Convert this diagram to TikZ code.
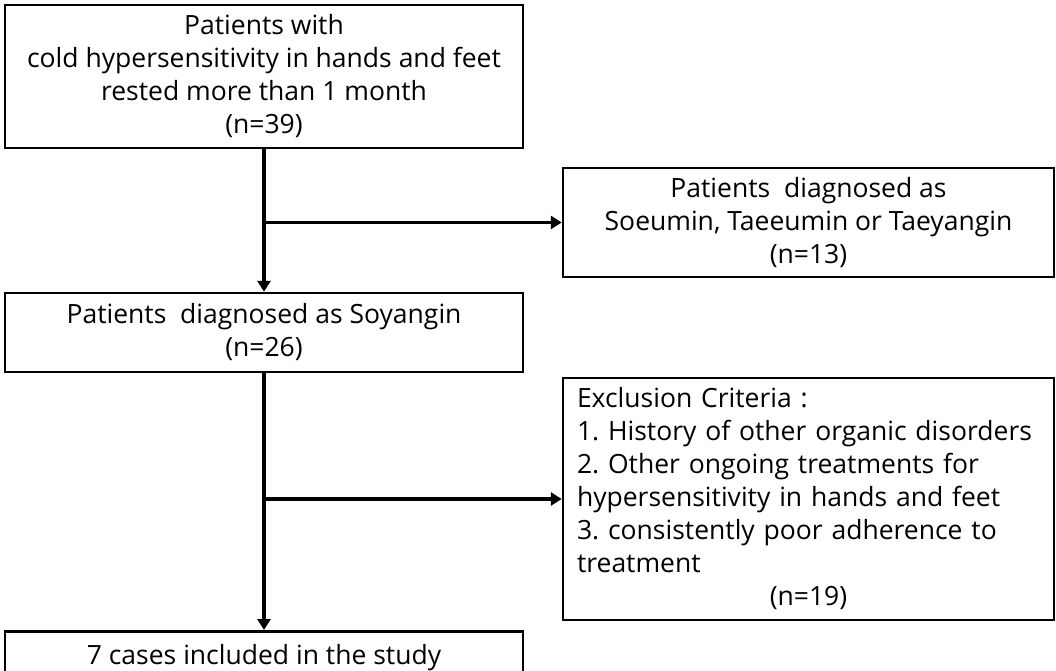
\documentclass[tikz,border=0pt]{standalone}
\usepackage{fontspec}
\setmainfont{Open Sans}
\usetikzlibrary{arrows.meta}
\frenchspacing

\begin{document}
\begin{tikzpicture}[x=1pt,y=-1pt,
    box/.style={draw, line width=2.5pt, inner sep=0pt,
      font=\fontsize{26.5}{33}\selectfont},
    flow/.style={line width=4.5pt, -{Triangle[length=11pt,width=13pt]}}]
  \useasboundingbox (0,0) rectangle (1056,671);
  \node[box, minimum width=518pt, minimum height=143pt, align=center] (P)
    at (264,76.5) {Patients with\\cold hypersensitivity in hands and
      feet\\rested more than 1 month\\(n=39)};
  \node[box, minimum width=491pt, minimum height=109pt, align=center] (X1)
    at (808.5,222.5) {Patients\ \ diagnosed as\\Soeumin, Taeeumin or
      Taeyangin\\(n=13)};
  \node[box, minimum width=518pt, minimum height=79pt, align=center] (S)
    at (264,332.5) {Patients\ \ diagnosed as Soyangin\\(n=26)};
  \node[box, minimum width=491pt, minimum height=242pt, text width=463pt,
    align=left] (X2) at (808.5,499) {Exclusion Criteria :\\1. History of
      other organic disorders\\2. Other ongoing treatments for\\
      hypersensitivity in hands and feet\\3. consistently poor adherence
      to\\treatment\par{\centering (n=19)\par}};
  \node[box, minimum width=518pt, minimum height=52pt, anchor=north,
    align=center] (C) at (264,630) {7 cases included in the study};
  \draw[flow] (P) -- (S);
  \draw[flow, line width=3.5pt] (P.south |- X1.west) -- (X1.west);
  \draw[flow] (S) -- (C);
  \draw[flow, line width=3.5pt] (S.south |- X2.west) -- (X2.west);
\end{tikzpicture}
\end{document}
